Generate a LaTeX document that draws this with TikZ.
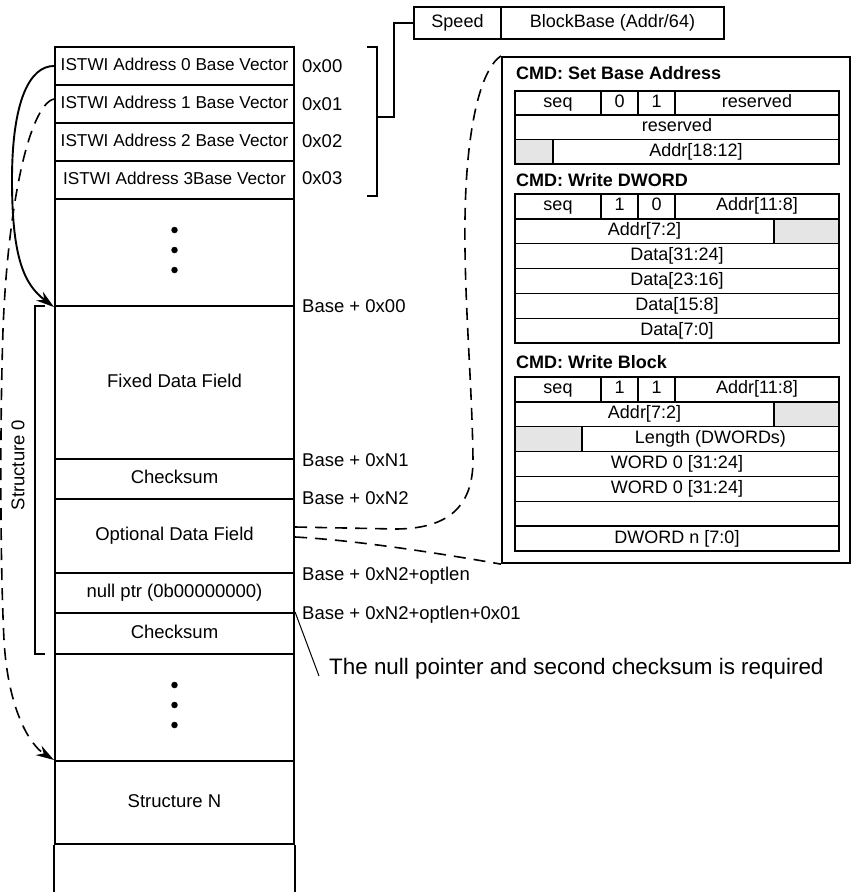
\documentclass[tikz,border=0pt]{standalone}
\usepackage{fontspec}
\setmainfont{Liberation Sans}
\usetikzlibrary{arrows.meta,calc}
\newcommand{\myfs}[1]{\fontsize{#1}{#1}\selectfont}
\newcommand{\mkcell}[7][]{\node[tcell,#1,minimum width={#5-#3},minimum height={#6-#4}] (#2) at ({(#3+#5)/2},{(#4+#6)/2}) {#7};}
\begin{document}
\begin{tikzpicture}[x=1pt,y=-1pt,line join=miter,
  tcell/.style={draw,line width=1.4pt,inner sep=0pt,font=\myfs{18},text height=13pt,text depth=4pt},
  mcell/.style={tcell,line width=2.1pt,font=\myfs{18.5}},
  icell/.style={mcell,font=\myfs{17.2}},
  graycell/.style={fill=black!10},
  lbl/.style={anchor=west,inner sep=0pt,font=\myfs{18.5},text height=13pt,text depth=4pt},
  hdr/.style={anchor=west,inner sep=0pt,font=\bfseries\myfs{18},text height=13pt,text depth=4pt},
  dashln/.style={dash pattern=on 12pt off 8pt,line width=1.6pt},
  arr/.style={-{Stealth[length=18pt,width=11pt]},line width=1.9pt},
  brk/.style={line width=1.5pt},
  dotn/.style={circle,fill,inner sep=0pt,minimum size=6.5pt}]
\useasboundingbox (0,0) rectangle (853,892);

% main column
\mkcell[icell]{r0}{55}{47}{294}{85}{ISTWI Address 0 Base Vector}
\mkcell[icell]{r1}{55}{85}{294}{123}{ISTWI Address 1 Base Vector}
\mkcell[icell]{r2}{55}{123}{294}{161}{ISTWI Address 2 Base Vector}
\mkcell[icell]{r3}{55}{161}{294}{199}{ISTWI Address 3Base Vector}
\mkcell[mcell]{gap1}{55}{199}{294}{306}{}
\mkcell[mcell]{fixed}{55}{306}{294}{459}{Fixed Data Field}
\mkcell[mcell]{chk1}{55}{459}{294}{499}{Checksum}
\mkcell[mcell]{opt}{55}{499}{294}{573}{Optional Data Field}
\mkcell[mcell]{nul}{55}{573}{294}{613}{null ptr (0b00000000)}
\mkcell[mcell]{chk2}{55}{613}{294}{654}{Checksum}
\mkcell[mcell]{gap2}{55}{654}{294}{761}{}
\mkcell[mcell]{sN}{55}{761}{294}{844}{Structure N}
\draw[line width=2.1pt] (sN.south west) -- ++(0,50);
\draw[line width=2.1pt] (sN.south east) -- ++(0,50);

% ellipsis dots
\node[dotn] (d1) at (174.5,230) {};
\node[dotn] (d2) at (174.5,250) {};
\node[dotn] (d3) at (174.5,270) {};
\node[dotn] (d4) at (174.5,685) {};
\node[dotn] (d5) at (174.5,705) {};
\node[dotn] (d6) at (174.5,725) {};

% address labels
\node[lbl] (a0) at (302,68) {0x00};
\node[lbl] (a1) at (302,106) {0x01};
\node[lbl] (a2) at (302,143) {0x02};
\node[lbl] (a3) at (302,180) {0x03};
\node[lbl] (b0) at (302,308) {Base + 0x00};
\node[lbl] (b1) at (302,462) {Base + 0xN1};
\node[lbl] (b2) at (302,500) {Base + 0xN2};
\node[lbl] (b3) at (302,576) {Base + 0xN2+optlen};
\node[lbl] (b4) at (302,615) {Base + 0xN2+optlen+0x01};

% speed box
\mkcell{speed}{414}{7}{501}{39}{Speed}
\mkcell{bb}{501}{7}{724}{39}{BlockBase (Addr/64)}

% address bracket
\draw[brk] (367,47) -- (377,47) -- (377,196) -- (367,196);
\coordinate (bmid) at (377,117);
\draw[brk] (bmid) -- (394,117) -- (394,23) -- (speed.west);

% structure 0 bracket
\draw[brk] (45,306) -- (35,306) -- (35,654) -- (45,654);
\node[rotate=90,inner sep=0pt,font=\myfs{18.5}] (s0) at (18,465) {Structure 0};

% arrows
\draw[arr] (r0.west) .. controls (30,66) and (12,100) .. (12,180)
  .. controls (12,260) and (25,285) .. (gap1.south west);
\draw[arr,dashln] ([yshift=5pt]r1.west) .. controls (30,105) and (8,200) .. (3,330)
  .. controls (0,420) and (0,560) .. (4,640)
  .. controls (8,710) and (30,745) .. (sN.north west);

% right panel
\node[draw,line width=2.2pt,minimum width=348,minimum height=506,inner sep=0pt] (panel) at (676,310) {};
\node[hdr] (h1) at (516,75) {CMD: Set Base Address};
\mkcell{t1a}{515}{91}{601}{115}{seq}
\mkcell{t1b}{601}{91}{638}{115}{0}
\mkcell{t1c}{638}{91}{675}{115}{1}
\mkcell{t1d}{675}{91}{839}{115}{reserved}
\mkcell{t1e}{515}{115}{839}{139.5}{reserved}
\mkcell[graycell]{t1f}{515}{139.5}{553}{164}{}
\mkcell{t1g}{553}{139.5}{839}{164}{Addr[18:12]}

\node[hdr] (h2) at (516,182) {CMD: Write DWORD};
\mkcell{t2a}{515}{194}{601}{218.8}{seq}
\mkcell{t2b}{601}{194}{638}{218.8}{1}
\mkcell{t2c}{638}{194}{675}{218.8}{0}
\mkcell{t2d}{675}{194}{839}{218.8}{Addr[11:8]}
\mkcell{t2e}{515}{218.8}{774}{243.7}{Addr[7:2]}
\mkcell[graycell]{t2f}{774}{218.8}{839}{243.7}{}
\mkcell{t2g}{515}{243.7}{839}{268.5}{Data[31:24]}
\mkcell{t2h}{515}{268.5}{839}{293.3}{Data[23:16]}
\mkcell{t2i}{515}{293.3}{839}{318.2}{Data[15:8]}
\mkcell{t2j}{515}{318.2}{839}{343}{Data[7:0]}

\node[hdr] (h3) at (516,364) {CMD: Write Block};
\mkcell{t3a}{515}{377}{601}{401.9}{seq}
\mkcell{t3b}{601}{377}{638}{401.9}{1}
\mkcell{t3c}{638}{377}{675}{401.9}{1}
\mkcell{t3d}{675}{377}{839}{401.9}{Addr[11:8]}
\mkcell{t3e}{515}{401.9}{774}{426.7}{Addr[7:2]}
\mkcell[graycell]{t3f}{774}{401.9}{839}{426.7}{}
\mkcell[graycell]{t3g}{515}{426.7}{582}{451.6}{}
\mkcell{t3h}{582}{426.7}{839}{451.6}{Length (DWORDs)}
\mkcell{t3i}{515}{451.6}{839}{476.4}{WORD 0 [31:24]}
\mkcell{t3j}{515}{476.4}{839}{501.3}{WORD 0 [31:24]}
\mkcell{t3k}{515}{501.3}{839}{526.1}{}
\mkcell{t3l}{515}{526.1}{839}{551}{DWORD n [7:0]}

% dashed connectors to panel
\draw[dashln] ([yshift=9pt]opt.east) -- (395,529) .. controls (450,529) and (473,505) .. (473,460)
  .. controls (472,380) and (464,300) .. (465,220)
  .. controls (466,130) and (480,70) .. (panel.north west);
\draw[dashln] ([yshift=-1pt]opt.east) .. controls (350,540) and (420,550) .. (panel.south west);

% annotation
\node[anchor=west,inner sep=0pt,font=\myfs{22.4},text height=15pt,text depth=5pt] (note) at (329,669) {The null pointer and second checksum is required};
\draw[line width=1pt] (chk2.north east) -- ([xshift=-10pt,yshift=-7pt]note.west);
\end{tikzpicture}
\end{document}
